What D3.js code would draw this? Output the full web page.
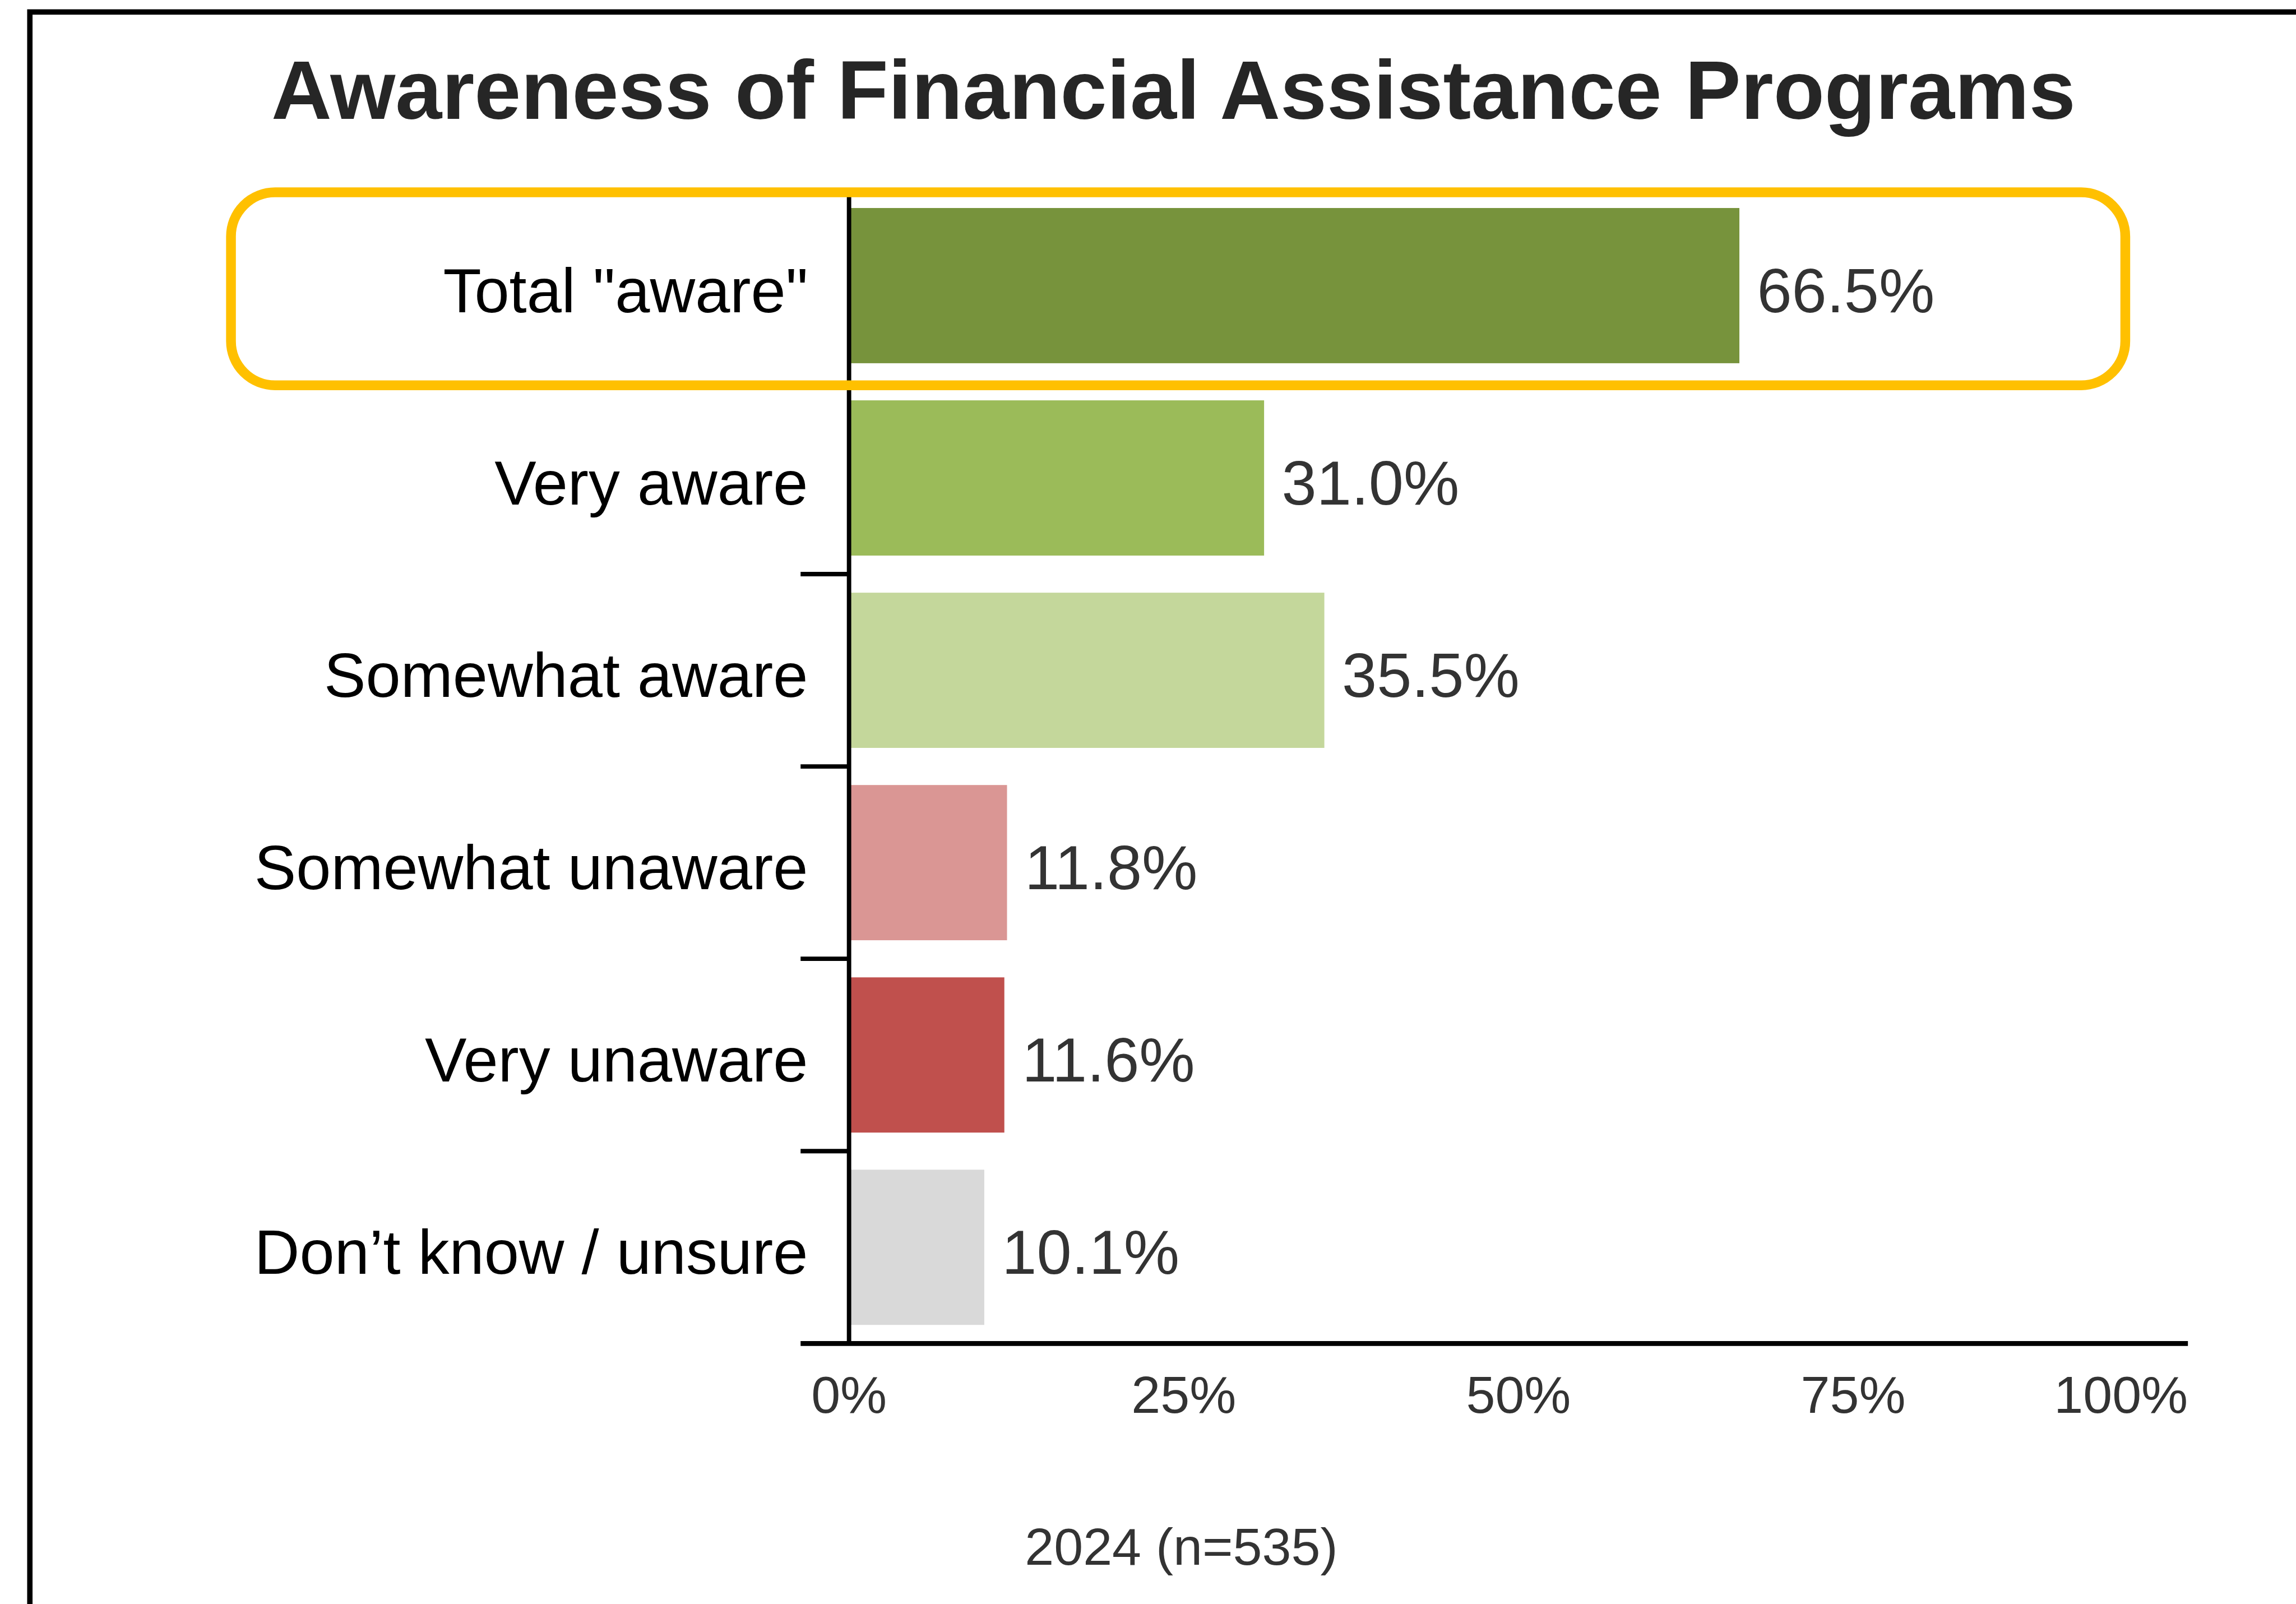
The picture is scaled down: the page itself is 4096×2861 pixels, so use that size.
<!DOCTYPE html>
<html>
<head>
<meta charset="utf-8">
<script src="https://cdn.jsdelivr.net/npm/d3@7"></script>
<style>
  body { margin: 0; background: #fff; }
  svg { display: block; }
  text { font-family: "Liberation Sans", Arial, sans-serif; }
</style>
</head>
<body>
<div id="chart"></div>
<script>
const categories = ["Total \"aware\"", "Very aware", "Somewhat aware", "Somewhat unaware", "Very unaware", "Don’t know / unsure"];
const values = [66.5, 31.0, 35.5, 11.8, 11.6, 10.1];
const barColors = ["#77933c", "#9bbb59", "#c4d79b", "#da9694", "#c0504d", "#d9d9d9"];
const xTicks = [0, 25, 50, 75, 100];
const title = "Awareness of Financial Assistance Programs";
const footnote = "2024 (n=535)";

// everything laid out in reference pixels, then shrunk to the window
const k = 0.873;
const W = 4096, H = 2861;

const svg = d3.select("#chart")
  .append("svg")
  .attr("width", W)
  .attr("height", H);

const root = svg.append("g")
  .attr("transform", `scale(${k})`);

// outer frame (right and bottom edges run off the page)
root.append("rect")
  .attr("x", 61)
  .attr("y", 24.5)
  .attr("width", 6000)
  .attr("height", 6000)
  .attr("fill", "none")
  .attr("stroke", "#000")
  .attr("stroke-width", 11);

root.append("text")
  .attr("x", 2398)
  .attr("y", 243)
  .attr("text-anchor", "middle")
  .style("font-size", "171px")
  .style("font-weight", "bold")
  .attr("fill", "#262626")
  .text(title);

const x = d3.scaleLinear()
  .domain([0, 100])
  .range([1735, 4471]);

const y = d3.scaleBand()
  .domain(categories)
  .range([387, 2745])
  .paddingInner(0.193)
  .paddingOuter(0.0967);

// bars
root.selectAll(".bar")
  .data(categories)
  .enter()
  .append("rect")
  .attr("class", "bar")
  .attr("x", x(0))
  .attr("y", d => y(d))
  .attr("width", (d, i) => x(values[i]) - x(0))
  .attr("height", y.bandwidth())
  .attr("fill", (d, i) => barColors[i]);

// value labels
root.selectAll(".val")
  .data(categories)
  .enter()
  .append("text")
  .attr("class", "val")
  .attr("x", (d, i) => x(values[i]) + 36)
  .attr("y", d => y(d) + y.bandwidth() / 2 + 54)
  .style("font-size", "128px")
  .attr("fill", "#333")
  .text((d, i) => values[i].toFixed(1) + "%");

// category labels
root.selectAll(".cat")
  .data(categories)
  .enter()
  .append("text")
  .attr("class", "cat")
  .attr("x", 1651)
  .attr("y", d => y(d) + y.bandwidth() / 2 + 54)
  .attr("text-anchor", "end")
  .style("font-size", "128px")
  .attr("fill", "#000")
  .text(d => d);

// ticks between categories (the first one sits under the highlight)
const step = y.step();
root.selectAll(".ytick")
  .data(categories.slice(2))
  .enter()
  .append("line")
  .attr("class", "ytick")
  .attr("x1", 1636)
  .attr("x2", x(0))
  .attr("y1", d => y(d) - (step - y.bandwidth()) / 2)
  .attr("y2", d => y(d) - (step - y.bandwidth()) / 2)
  .attr("stroke", "#000")
  .attr("stroke-width", 9);

// axes lines
root.append("line")
  .attr("x1", x(0))
  .attr("x2", x(0))
  .attr("y1", y.range()[0])
  .attr("y2", y.range()[1])
  .attr("stroke", "#000")
  .attr("stroke-width", 9);

root.append("line")
  .attr("x1", 1636)
  .attr("x2", x(100))
  .attr("y1", y.range()[1])
  .attr("y2", y.range()[1])
  .attr("stroke", "#000")
  .attr("stroke-width", 10);

// x tick labels
root.selectAll(".xlab")
  .data(xTicks)
  .enter()
  .append("text")
  .attr("class", "xlab")
  .attr("x", d => x(d))
  .attr("y", 2887)
  .attr("text-anchor", d => d === 100 ? "end" : "middle")
  .style("font-size", "107px")
  .attr("fill", "#333")
  .text(d => d + "%");

root.append("text")
  .attr("x", 2414)
  .attr("y", 3197)
  .attr("text-anchor", "middle")
  .style("font-size", "107px")
  .attr("fill", "#333")
  .text(footnote);

// highlight round the total row
const top0 = y(categories[0]);
root.append("rect")
  .attr("x", 472)
  .attr("y", top0 - 32)
  .attr("width", 4343 - 472)
  .attr("height", y.bandwidth() + 32 + 45)
  .attr("rx", 90)
  .attr("ry", 90)
  .attr("fill", "none")
  .attr("stroke", "#ffc000")
  .attr("stroke-width", 20);
</script>
</body>
</html>
